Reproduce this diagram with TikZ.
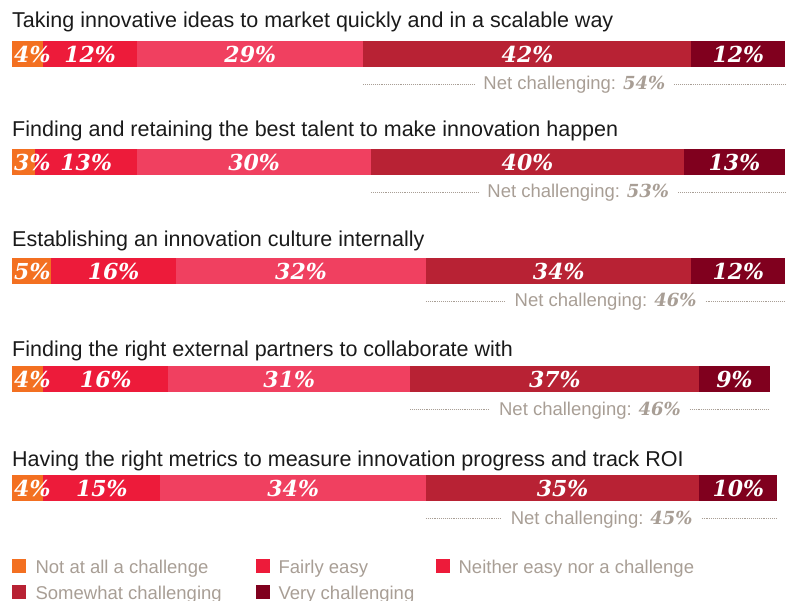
\documentclass[tikz,border=0pt]{standalone}
\usepackage{fontspec}
\setmainfont{Liberation Sans}
\newfontfamily\numfont{DejaVu Serif}
\usetikzlibrary{positioning}

\definecolor{notatall}{HTML}{F37021}
\definecolor{fairlyeasy}{HTML}{ED1B3A}
\definecolor{neither}{HTML}{F04060}
\definecolor{somewhat}{HTML}{B82234}
\definecolor{verych}{HTML}{80001E}
\definecolor{netgrey}{HTML}{A89E95}
\definecolor{titleblack}{HTML}{1A1A1A}

\begin{document}
\begin{tikzpicture}[x=1pt,y=-1pt,
  pct/.style={inner sep=0pt,text=white,font=\fontsize{22}{22}\numfont\bfseries\itshape},
  ttl/.style={anchor=base west,inner sep=0pt,text=titleblack,font=\fontsize{21.5}{21.5}\selectfont},
  net/.style={anchor=base,inner xsep=9pt,inner ysep=0pt,text=netgrey,font=\fontsize{18.5}{18.5}\selectfont},
  netnum/.style={font=\fontsize{18}{18}\numfont\bfseries\itshape},
  dotline/.style={netgrey,line width=0.7pt,dash pattern=on 0.7pt off 1.2pt},
  key/.style={minimum size=14pt,inner sep=0pt,anchor=south west},
  keytext/.style={anchor=base west,inner sep=0pt,text=netgrey,font=\fontsize{18.5}{18.5}\selectfont}]
\useasboundingbox (0,0) rectangle (792,601);

% one bar per question
\foreach \i/\yt/\yb/\ttl/\va/\vb/\vc/\vd/\ve/\net in {
  1/41/28/Taking innovative ideas to market quickly and in a scalable way/4/12/29/42/12/54,
  2/149/137/Finding and retaining the best talent to make innovation happen/3/13/30/40/13/53,
  3/258/247/Establishing an innovation culture internally/5/16/32/34/12/46,
  4/366/356/Finding the right external partners to collaborate with/4/16/31/37/9/46,
  5/475/466/Having the right metrics to measure innovation progress and track ROI/4/15/34/35/10/45}
{
  \pgfmathsetmacro\xa{12}
  \pgfmathsetmacro\xb{\xa+7.81*\va}
  \pgfmathsetmacro\xc{\xb+7.81*\vb}
  \pgfmathsetmacro\xd{\xc+7.81*\vc}
  \pgfmathsetmacro\xe{\xd+7.81*\vd}
  \pgfmathsetmacro\xf{\xe+7.81*\ve}
  \pgfmathsetmacro\ym{\yt+13}
  \node[ttl] (t\i) at (12,\yb) {\ttl};
  \fill[notatall] (\xa,\yt) rectangle (\xb,\yt+26);
  \fill[fairlyeasy] (\xb,\yt) rectangle (\xc,\yt+26);
  \fill[neither] (\xc,\yt) rectangle (\xd,\yt+26);
  \fill[somewhat] (\xd,\yt) rectangle (\xe,\yt+26);
  \fill[verych] (\xe,\yt) rectangle (\xf,\yt+26);
  \node[pct,anchor=west] (p\i a) at (14,\ym) {\va\%};
  \node[pct] (p\i b) at ({(\xb+\xc)/2},\ym) {\vb\%};
  \node[pct] (p\i c) at ({(\xc+\xd)/2},\ym) {\vc\%};
  \node[pct] (p\i d) at ({(\xd+\xe)/2},\ym) {\vd\%};
  \node[pct] (p\i e) at ({(\xe+\xf)/2},\ym) {\ve\%};
  % net challenging line
  \coordinate (l\i) at (\xd,\yt+43);
  \coordinate (r\i) at (\xf,\yt+43);
  \node[net] (n\i) at ({(\xd+\xf)/2},\yt+49) {Net challenging: \tikz[baseline]\node[netnum,inner sep=0pt,anchor=base]{\net\%};};
  \draw[dotline] (l\i) -- (l\i -| n\i.west);
  \draw[dotline] (r\i -| n\i.east) -- (r\i);
}

% legend
\node[key,fill=notatall] (k1) at (12,573) {};
\node[keytext] (kt1) at ([xshift=9pt]k1.south east) {Not at all a challenge};
\node[key,fill=fairlyeasy] (k2) at (256,573) {};
\node[keytext] (kt2) at ([xshift=8pt]k2.south east) {Fairly easy};
\node[key,fill=fairlyeasy] (k3) at (436,573) {};
\node[keytext] (kt3) at ([xshift=8pt]k3.south east) {Neither easy nor a challenge};
\node[key,fill=somewhat] (k4) at (12,599) {};
\node[keytext] (kt4) at ([xshift=9pt]k4.south east) {Somewhat challenging};
\node[key,fill=verych] (k5) at (256,599) {};
\node[keytext] (kt5) at ([xshift=8pt]k5.south east) {Very challenging};
\end{tikzpicture}
\end{document}
